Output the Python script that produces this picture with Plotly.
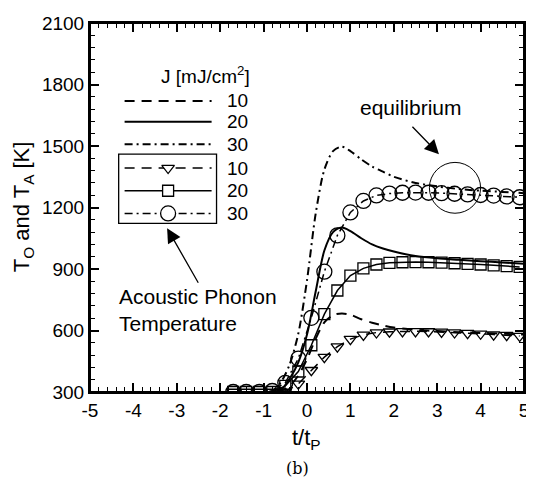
import plotly.graph_objects as go

# ---------------- data ----------------
t_line = [-5, -1, -0.8, -0.6, -0.4, -0.2, 0, 0.2, 0.4, 0.6, 0.8, 1.0, 1.25, 1.5,
          1.75, 2.0, 2.5, 3.0, 3.5, 4.0, 4.5, 5.0]
TO_10 = [300, 300, 300, 305, 330, 380, 460, 560, 640, 675, 683, 677, 655, 638,
         625, 615, 603, 597, 592, 588, 584, 580]
TO_20 = [300, 300, 300, 310, 365, 445, 580, 790, 990, 1080, 1102, 1085, 1050, 1020,
         1000, 985, 963, 952, 945, 938, 932, 926]
TO_30 = [300, 300, 305, 348, 434, 585, 845, 1170, 1385, 1475, 1497, 1475, 1435, 1400,
         1375, 1350, 1320, 1303, 1290, 1282, 1276, 1270]

t_mark = [-1.7, -1.4, -1.1, -0.8, -0.5, -0.2, 0.1, 0.4, 0.7, 1.0, 1.3, 1.6, 1.9,
          2.2, 2.5, 2.8, 3.1, 3.4, 3.7, 4.0, 4.3, 4.6, 4.9]
TA_10 = [300, 300, 300, 300, 300, 340, 406, 470, 521, 558, 579, 590, 594,
         596, 596, 595, 593, 590, 587, 584, 580, 577, 573]
TA_20 = [300, 300, 300, 300, 330, 400, 528, 680, 795, 868, 903, 922, 930,
         933, 934, 933, 931, 928, 925, 922, 918, 914, 910]
TA_30 = [300, 300, 300, 305, 345, 463, 662, 887, 1064, 1176, 1232, 1259, 1268,
         1272, 1273, 1272, 1270, 1267, 1264, 1261, 1258, 1254, 1250]

fluence_labels = ["10", "20", "30"]
x_ticks = [-5, -4, -3, -2, -1, 0, 1, 2, 3, 4, 5]
y_ticks = [300, 600, 900, 1200, 1500, 1800, 2100]

# ---------------- styles ----------------
FONT = "Arial, Liberation Sans, sans-serif"
DASH = "10px,7px"
DASHDOT = "8px,4px,2px,4px"
dashes = [DASH, "solid", DASHDOT]
symbols = ["triangle-down-open", "square-open", "circle-open"]
msizes = [11, 11, 15]

# plot area in page pixels (page body has an 8px default margin)
OFF = 8
L, R, T, B = 90, 529, 18, 392
PAGE_W, PAGE_H = 534, 487
W, H = PAGE_W - OFF, PAGE_H - OFF

def px(xp):
    return (xp - L) / (R - L)

def py(yp):
    return (B - yp) / (B - T)

fig = go.Figure()

for ys, d in zip([TO_10, TO_20, TO_30], dashes):
    fig.add_trace(go.Scatter(x=t_line, y=ys, mode="lines",
                             line=dict(color="black", width=2, dash=d, shape="spline", smoothing=0.8),
                             showlegend=False, hoverinfo="skip"))

for ys, d, s, ms in zip([TA_10, TA_20, TA_30], dashes, symbols, msizes):
    fig.add_trace(go.Scatter(x=t_mark, y=ys, mode="lines+markers",
                             line=dict(color="black", width=1.5, dash=d),
                             marker=dict(symbol=s, size=ms, color="black",
                                         line=dict(width=1.3, color="black")),
                             showlegend=False, hoverinfo="skip"))

# ---------------- custom legend (pixel overlay axes) ----------------
leg_rows_y = [97, 118, 141, 165, 188, 211]
leg_x0, leg_x1, leg_xc = 125, 213, 169
for i, yy in enumerate(leg_rows_y):
    d = dashes[i % 3]
    fig.add_trace(go.Scatter(x=[leg_x0, leg_x1], y=[yy, yy], mode="lines",
                             line=dict(color="black", width=2 if i < 3 else 1.5, dash=d),
                             xaxis="x2", yaxis="y2", showlegend=False, hoverinfo="skip"))
    if i >= 3:
        k = i - 3
        fig.add_trace(go.Scatter(x=[leg_xc], y=[yy], mode="markers",
                                 marker=dict(symbol=symbols[k].replace("-open", ""), size=msizes[k],
                                             color="white", line=dict(width=1.3, color="black")),
                                 xaxis="x2", yaxis="y2", showlegend=False, hoverinfo="skip"))

annotations = []
for i, yy in enumerate(leg_rows_y):
    annotations.append(dict(x=px(227), y=py(yy), xref="paper", yref="paper",
                            text=fluence_labels[i % 3], showarrow=False,
                            xanchor="left", yanchor="middle",
                            font=dict(family=FONT, size=19, color="black")))
annotations.append(dict(x=px(207), y=py(71), xref="paper", yref="paper",
                        text="J [mJ/cm<sup>2</sup>]", showarrow=False,
                        xanchor="center", yanchor="middle",
                        font=dict(family=FONT, size=19, color="black")))

# equilibrium annotation + arrow
annotations.append(dict(x=px(415), y=py(104), xref="paper", yref="paper",
                        text="equilibrium", showarrow=False, xanchor="center", yanchor="middle",
                        font=dict(family=FONT, size=21, color="black")))
annotations.append(dict(x=px(443), y=py(151), xref="paper", yref="paper", ax=-28, ay=-29,
                        text="", showarrow=True, arrowhead=2, arrowsize=2.2, arrowwidth=1.3,
                        arrowcolor="black"))
# acoustic phonon annotation + arrow
annotations.append(dict(x=px(117), y=py(309), xref="paper", yref="paper",
                        text="Acoustic Phonon<br>Temperature", showarrow=False,
                        xanchor="left", yanchor="middle", align="left",
                        font=dict(family=FONT, size=21, color="black")))
annotations.append(dict(x=px(168), y=py(226), xref="paper", yref="paper", ax=32, ay=56,
                        text="", showarrow=True, arrowhead=2, arrowsize=2.2, arrowwidth=1.3,
                        arrowcolor="black"))
# axis titles
annotations.append(dict(x=px(22), y=py(204), xref="paper", yref="paper",
                        text="T<sub>O</sub> and T<sub>A</sub> [K]", showarrow=False, textangle=-90,
                        xanchor="center", yanchor="middle",
                        font=dict(family=FONT, size=22, color="black")))
annotations.append(dict(x=px(309), y=py(440), xref="paper", yref="paper",
                        text="t/t<sub>P</sub>", showarrow=False,
                        xanchor="center", yanchor="middle",
                        font=dict(family=FONT, size=22, color="black")))
annotations.append(dict(x=px(300), y=py(470), xref="paper", yref="paper",
                        text="(b)", showarrow=False,
                        xanchor="center", yanchor="middle",
                        font=dict(family="DejaVu Serif, Liberation Serif, serif", size=16, color="black")))

shapes = [
    # frame
    dict(type="rect", xref="paper", yref="paper", x0=0, x1=1, y0=0, y1=1,
         line=dict(color="black", width=2), layer="above"),
    # legend box
    dict(type="rect", xref="x2", yref="y2", x0=119, x1=218, y0=151, y1=221,
         line=dict(color="black", width=1.3)),
    # equilibrium circle (data coords)
    dict(type="circle", xref="x", yref="y", x0=2.82, x1=4.0, y0=1172, y1=1420,
         line=dict(color="black", width=1)),
]

axis_common = dict(showline=True, linecolor="black", linewidth=2, mirror="ticks",
                   ticks="inside", ticklen=9, tickwidth=1.5, tickcolor="black",
                   showgrid=False, zeroline=False, ticklabeloverflow="allow",
                   tickfont=dict(family=FONT, size=19, color="black"))

fig.update_layout(
    width=W, height=H,
    margin=dict(l=L - OFF, r=PAGE_W - R, t=T - OFF, b=PAGE_H - B),
    paper_bgcolor="white", plot_bgcolor="white",
    xaxis=dict(range=[-5, 5], tickvals=x_ticks, ticktext=[str(v) for v in x_ticks],
               minor=dict(dtick=0.2, ticks="inside", ticklen=5, tickwidth=1.2, tickcolor="black",
                          showgrid=False),
               **axis_common),
    yaxis=dict(range=[300, 2100], tickvals=y_ticks, ticktext=[str(v) for v in y_ticks],
               minor=dict(dtick=60, ticks="inside", ticklen=5, tickwidth=1.2, tickcolor="black",
                          showgrid=False),
               **axis_common),
    xaxis2=dict(range=[L, R], overlaying="x", visible=False, fixedrange=True),
    yaxis2=dict(range=[B, T], overlaying="y", visible=False, fixedrange=True),
    annotations=annotations,
    shapes=shapes,
    showlegend=False,
)

fig.write_html("out.html")
